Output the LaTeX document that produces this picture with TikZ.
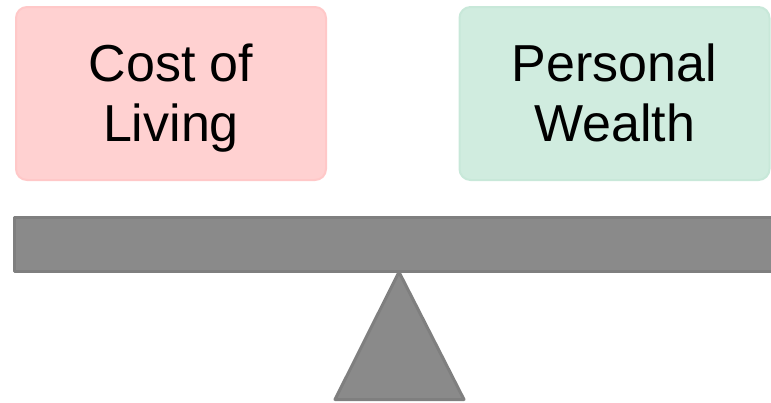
\documentclass[tikz,border=0pt]{standalone}
\usepackage{fontspec}
\setmainfont{Liberation Sans}
\definecolor{pinkfill}{HTML}{FFD1D1}
\definecolor{pinkline}{HTML}{FFC8C8}
\definecolor{greenfill}{HTML}{D0ECDF}
\definecolor{greenline}{HTML}{C8E8D9}
\definecolor{beamfill}{HTML}{8A8A8A}
\definecolor{beamline}{HTML}{7F7F7F}
\tikzset{
  card/.style={rounded corners=11pt, line width=2pt, minimum width=310pt, minimum height=173pt, inner sep=0pt},
  cardtext/.style={align=center, font=\fontsize{52}{60}\selectfont, text=black},
  solid gray/.style={fill=beamfill, draw=beamline, line width=3pt, line join=round}
}
\begin{document}
\begin{tikzpicture}[x=1pt,y=-1pt]
\useasboundingbox (0,0) rectangle (771,402);
\node[card, fill=pinkfill, draw=pinkline] (cost) at (171,93.5) {};
\node[card, fill=greenfill, draw=greenline] (wealth) at (614.5,93.5) {};
\node[cardtext, anchor=base] (costtext) at (171,141) {Cost of\\Living};
\node[cardtext, anchor=base] (wealthtext) at (614.5,141) {Personal\\Wealth};
\draw[solid gray] (14.5,217.5) rectangle (800,271.5);
\coordinate (apex) at (399,272);
\draw[solid gray] (apex) -- (464,399.5) -- (335,399.5) -- cycle;
\end{tikzpicture}
\end{document}
